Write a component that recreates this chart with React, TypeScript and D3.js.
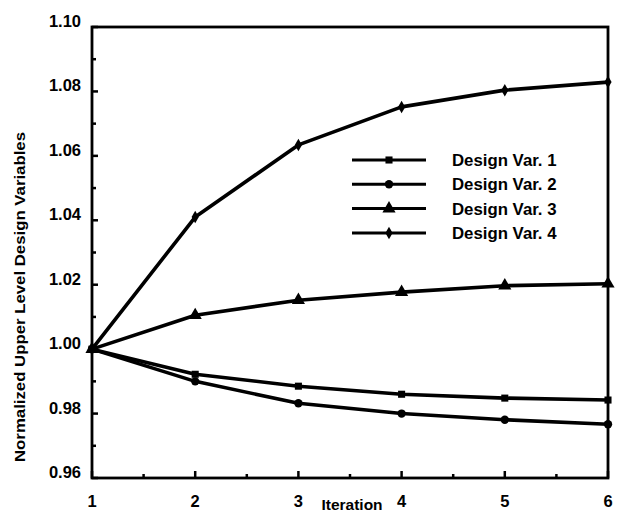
import React from "react";
import * as d3 from "d3";

const iterations = [1, 2, 3, 4, 5, 6];
const seriesNames = ["Design Var. 1", "Design Var. 2", "Design Var. 3", "Design Var. 4"];
const var1 = [1.0, 0.9922, 0.9885, 0.986, 0.9848, 0.9842];
const var2 = [1.0, 0.99, 0.9832, 0.98, 0.9781, 0.9767];
const var3 = [1.0, 1.0105, 1.0152, 1.0177, 1.0197, 1.0203];
const var4 = [1.0, 1.041, 1.0634, 1.0752, 1.0804, 1.0829];
const yTicks = [0.96, 0.98, 1.0, 1.02, 1.04, 1.06, 1.08, 1.1];
const yTickLabels = ["0.96", "0.98", "1.00", "1.02", "1.04", "1.06", "1.08", "1.10"];
const xTicks = [1, 2, 3, 4, 5, 6];
const markerTypes = ["square", "circle", "triangle", "diamond"];

const W = 628, H = 520;
const L = 92, R = 608, T = 27, B = 478;

export default function App() {
  const x = d3.scaleLinear().domain([1, 6]).range([L, R]);
  const y = d3.scaleLinear().domain([0.96, 1.1]).range([B, T]);
  const line = d3.line<[number, number]>().x(d => x(d[0])).y(d => y(d[1]));
  const all = [var1, var2, var3, var4];
  const sym = (t: string) => {
    if (t === "square") return d3.symbol(d3.symbolSquare, 50)();
    if (t === "circle") return d3.symbol(d3.symbolCircle, 55)();
    if (t === "triangle") return d3.symbol(d3.symbolTriangle, 75)();
    return d3.symbol(d3.symbolDiamond, 45)();
  };
  const minorY = d3.range(0.97, 1.1, 0.02);
  const minorX = [1.5, 2.5, 3.5, 4.5, 5.5];
  const font = "'Liberation Sans', Arial, sans-serif";
  return (
    <svg width={W} height={H} style={{ position: "absolute", left: 0, top: 0, background: "#fff" }}>
      <rect x={0} y={0} width={W} height={H} fill="#fff" />
      <rect x={L} y={T} width={R - L} height={B - T} fill="none" stroke="#000" strokeWidth={2.8} />
      {yTicks.map((v, i) => (
        <g key={"y" + i}>
          <line x1={L} x2={L + 6} y1={y(v)} y2={y(v)} stroke="#000" strokeWidth={2.5} />
          <text x={81} y={y(v)} textAnchor="end" fontFamily={font} fontWeight="bold" fontSize={16.5} fill="#000">
            {yTickLabels[i]}
          </text>
        </g>
      ))}
      {minorY.map((v, i) => (
        <line key={"my" + i} x1={L} x2={L + 4} y1={y(v)} y2={y(v)} stroke="#000" strokeWidth={2.5} />
      ))}
      {xTicks.map((v, i) => (
        <g key={"x" + i}>
          <line x1={x(v)} x2={x(v)} y1={B} y2={B - 7} stroke="#000" strokeWidth={2.5} />
          <text x={x(v)} y={507} textAnchor="middle" fontFamily={font} fontWeight="bold" fontSize={16.5} fill="#000">
            {v}
          </text>
        </g>
      ))}
      {minorX.map((v, i) => (
        <line key={"mx" + i} x1={x(v)} x2={x(v)} y1={B} y2={B - 4} stroke="#000" strokeWidth={2.5} />
      ))}
      <text x={352} y={510} textAnchor="middle" fontFamily={font} fontWeight="bold" fontSize={15.5} fill="#000">
        Iteration
      </text>
      <text
        transform={`translate(25, 297) rotate(-90)`}
        textAnchor="middle"
        fontFamily={font}
        fontWeight="bold"
        fontSize={15.5}
        textLength={330}
        lengthAdjust="spacingAndGlyphs"
        fill="#000"
      >
        Normalized Upper Level Design Variables
      </text>
      {all.map((vals, si) => (
        <g key={"s" + si}>
          <path
            d={line(iterations.map((it, k) => [it, vals[k]] as [number, number])) || ""}
            fill="none"
            stroke="#000"
            strokeWidth={3.6}
            strokeLinejoin="round"
          />
          {iterations.map((it, k) => (
            <path key={k} d={sym(markerTypes[si]) || ""} transform={`translate(${x(it)},${y(vals[k])})`} fill="#000" />
          ))}
        </g>
      ))}
      {seriesNames.map((n, i) => {
        const ly = 160 + i * 24.3;
        return (
          <g key={"l" + i}>
            <line x1={352} x2={426} y1={ly} y2={ly} stroke="#000" strokeWidth={3} />
            <path d={sym(markerTypes[i]) || ""} transform={`translate(389,${ly})`} fill="#000" />
            <text x={452} y={ly + 6} fontFamily={font} fontWeight="bold" fontSize={16.8} fill="#000">
              {n}
            </text>
          </g>
        );
      })}
    </svg>
  );
}
